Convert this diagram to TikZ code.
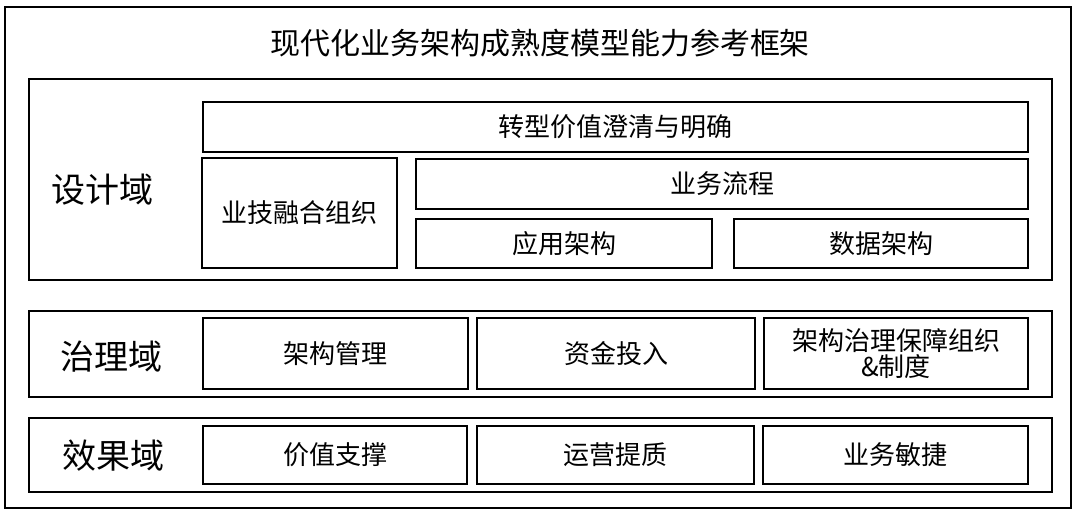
\documentclass[tikz,border=0pt]{standalone}
\usepackage{fontspec}
\setmainfont{Noto Sans CJK SC}
\usepackage{tikz}
\usetikzlibrary{positioning}

\tikzset{
  panelbox/.style={draw, line width=2.8pt, inner sep=0pt},
  item/.style={draw, line width=1.9pt, inner sep=0pt, align=center,
    font=\fontsize{26}{30}\selectfont},
  domainlbl/.style={font=\fontsize{34}{40}\selectfont},
}

\begin{document}
\begin{tikzpicture}[x=1pt, y=-1pt]
\useasboundingbox (0,0) rectangle (1080,517);

% outer frame and title
\node[panelbox, minimum width=1066pt, minimum height=501pt] (outer) at (538,257.5) {};
\node[font=\fontsize{30}{36}\selectfont] (title) at (540,43) {现代化业务架构成熟度模型能力参考框架};

% the three domain panels
\node[panelbox, minimum width=1023pt, minimum height=201pt] (design) at (540.5,179.5) {};
\node[panelbox, minimum width=1023pt, minimum height=86pt] (govern) at (540.5,354) {};
\node[panelbox, minimum width=1023pt, minimum height=74pt] (effect) at (540.5,455) {};

\node[domainlbl] (designlbl) at (102,190) {设计域};
\node[domainlbl] (governlbl) at (111,357) {治理域};
\node[domainlbl] (effectlbl) at (113,456) {效果域};

% design domain
\node[item, minimum width=825pt, minimum height=50pt] (value) at (615.5,127) {转型价值澄清与明确};
\node[item, minimum width=195pt, minimum height=110pt] (org) at (299.5,213) {业技融合组织};
\node[item, minimum width=612pt, minimum height=50pt] (process) at (722,184) {业务流程};
\node[item, minimum width=296pt, minimum height=49pt] (app) at (564,243.5) {应用架构};
\node[item, minimum width=294pt, minimum height=49pt] (data) at (881,243.5) {数据架构};

% governance domain
\node[item, minimum width=265pt, minimum height=71pt] (archmgmt) at (335.5,353.5) {架构管理};
\node[item, minimum width=278pt, minimum height=71pt] (fund) at (616,353.5) {资金投入};
\node[item, minimum width=264pt, minimum height=71pt] (guard) at (896,353.5) {架构治理保障组织\\[-4pt]\&制度};

% effect domain
\node[item, minimum width=264pt, minimum height=58pt] (support) at (335,455) {价值支撑};
\node[item, minimum width=277pt, minimum height=58pt] (ops) at (615.5,455) {运营提质};
\node[item, minimum width=265pt, minimum height=58pt] (agile) at (895.5,455) {业务敏捷};
\end{tikzpicture}
\end{document}
